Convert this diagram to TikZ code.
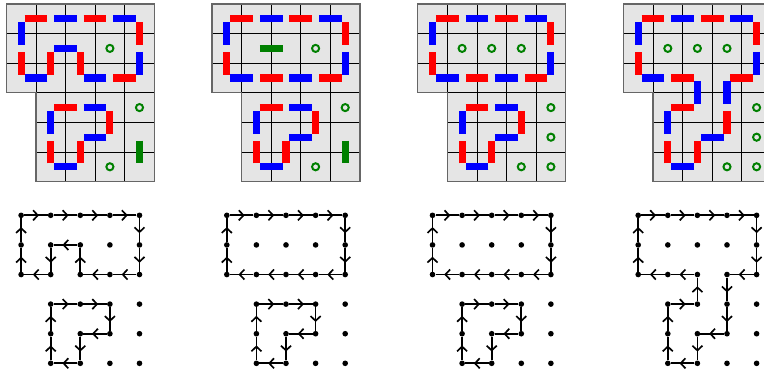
\documentclass[tikz,border=0pt]{standalone}
\usetikzlibrary{arrows.meta,decorations.markings}

\definecolor{cellgray}{gray}{0.9}
\definecolor{rimgray}{gray}{0.4}
\definecolor{barred}{RGB}{255,0,0}
\definecolor{barblue}{RGB}{0,0,255}
\definecolor{freegreen}{RGB}{0,128,0}

% closed tour: alternating dominoes on the board, arrows on the graph
\newcommand{\drawtour}[2]{%
  \foreach \v [count=\k, remember=\v as \u (initially 0-0)] in {#2} {
    \ifnum\k>1
      \ifodd\k \def\barcol{barblue}\else \def\barcol{barred}\fi
      \draw[domino, color=\barcol] (c#1-\u) -- (c#1-\v);
      \draw[walk] (v#1-\u) -- (v#1-\v);
    \fi
  }%
}

\begin{document}
\begin{tikzpicture}[
    x=1cm, y=-1cm,
    cell/.style={draw=black, fill=cellgray, line width=0.6pt},
    rim/.style={draw=rimgray, line width=1.3pt},
    domino/.style={line width=0.24cm, shorten <=0.115cm, shorten >=0.115cm},
    dot/.style={circle, fill=black, inner sep=0pt, minimum size=1.9mm},
    hole/.style={circle, draw=freegreen, line width=1.9pt, inner sep=0pt, minimum size=2.4mm},
    walk/.style={line width=1.6pt, postaction={decorate},
      decoration={markings, mark=at position 0.63 with {\arrow{Straight Barb[length=1.6mm,width=3.4mm]}}}}
]
\clip (-0.213,-0.135) rectangle (25.6,12.47);

% boards and graphs
\foreach \p/\px in {1/0, 2/6.95, 3/13.9, 4/20.85} {
  \begin{scope}[xshift=\px cm]
    \foreach \i in {0,...,4} \foreach \j in {0,1,2} {
      \draw[cell] (\i,\j) rectangle ++(1,1);
      \coordinate (c\p-\i-\j) at (\i+0.5,\j+0.5);
      \node[dot] (v\p-\i-\j) at (\i+0.5,\j+7.14) {};
    }
    \foreach \i in {1,...,4} \foreach \j in {3,4,5} {
      \draw[cell] (\i,\j) rectangle ++(1,1);
      \coordinate (c\p-\i-\j) at (\i+0.5,\j+0.5);
      \node[dot] (v\p-\i-\j) at (\i+0.5,\j+7.14) {};
    }
    \draw[rim] (0,0) -- (5,0) -- (5,6) -- (1,6) -- (1,3) -- (0,3) -- cycle;
  \end{scope}
}

% panel 1
\drawtour{1}{0-0,1-0,2-0,3-0,4-0,4-1,4-2,3-2,2-2,2-1,1-1,1-2,0-2,0-1,0-0}
\drawtour{1}{1-3,2-3,3-3,3-4,2-4,2-5,1-5,1-4,1-3}
\node[hole] (h1a) at (c1-3-1) {};
\node[hole] (h1b) at (c1-4-3) {};
\node[hole] (h1c) at (c1-3-5) {};
\draw[domino, freegreen] (c1-4-4) -- (c1-4-5);

% panel 2
\drawtour{2}{0-0,1-0,2-0,3-0,4-0,4-1,4-2,3-2,2-2,1-2,0-2,0-1,0-0}
\drawtour{2}{1-3,2-3,3-3,3-4,2-4,2-5,1-5,1-4,1-3}
\node[hole] (h2a) at (c2-3-1) {};
\node[hole] (h2b) at (c2-4-3) {};
\node[hole] (h2c) at (c2-3-5) {};
\draw[domino, freegreen] (c2-1-1) -- (c2-2-1);
\draw[domino, freegreen] (c2-4-4) -- (c2-4-5);

% panel 3
\drawtour{3}{0-0,1-0,2-0,3-0,4-0,4-1,4-2,3-2,2-2,1-2,0-2,0-1,0-0}
\drawtour{3}{1-3,2-3,3-3,3-4,2-4,2-5,1-5,1-4,1-3}
\foreach \h in {1-1,2-1,3-1,4-3,4-4,3-5,4-5}
  \node[hole] (h3-\h) at (c3-\h) {};

% panel 4
\drawtour{4}{0-0,1-0,2-0,3-0,4-0,4-1,4-2,3-2,3-3,3-4,2-4,2-5,1-5,1-4,1-3,2-3,2-2,1-2,0-2,0-1,0-0}
\foreach \h in {1-1,2-1,3-1,4-3,4-4,3-5,4-5}
  \node[hole] (h4-\h) at (c4-\h) {};

\end{tikzpicture}
\end{document}
